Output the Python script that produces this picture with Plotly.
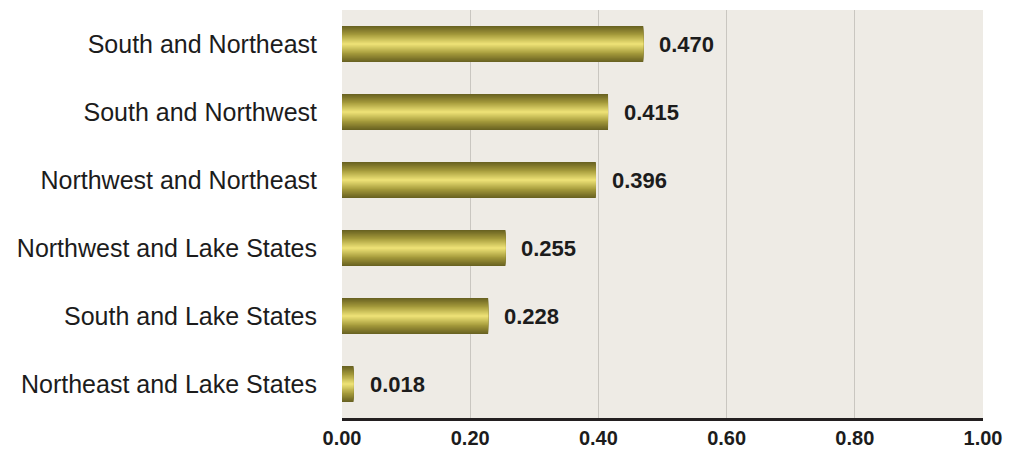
import plotly.graph_objects as go

categories = [
    "Northeast and Lake States",
    "South and Lake States",
    "Northwest and Lake States",
    "Northwest and Northeast",
    "South and Northwest",
    "South and Northeast",
]
values = [0.018, 0.228, 0.255, 0.396, 0.415, 0.470]
tick_vals = [0.0, 0.2, 0.4, 0.6, 0.8, 1.0]
tick_text = ["0.00", "0.20", "0.40", "0.60", "0.80", "1.00"]


def hex_to_rgb(h):
    h = h.lstrip("#")
    return tuple(int(h[i:i + 2], 16) for i in (0, 2, 4))


def mix(c1, c2, t):
    a, b = hex_to_rgb(c1), hex_to_rgb(c2)
    return "rgb(%d,%d,%d)" % tuple(round(a[i] + (b[i] - a[i]) * t) for i in range(3))


edge = "#6a6322"
mid = "#a89d3d"
center = "#ebdf74"

fig = go.Figure()
full_w = 0.53
n_layers = 14
for k in range(n_layers):
    t = k / (n_layers - 1)
    if t < 0.5:
        col = mix(edge, mid, t / 0.5)
    else:
        col = mix(mid, center, (t - 0.5) / 0.5)
    w = full_w * (1 - k / n_layers)
    fig.add_trace(go.Bar(
        x=values, y=categories, orientation="h",
        width=w, marker=dict(color=col, line=dict(width=0)),
        hoverinfo="skip" if k else "x+y", showlegend=False,
    ))

for cat, v in zip(categories, values):
    fig.add_annotation(
        x=v, y=cat, text="%.3f" % v, showarrow=False,
        xanchor="left", yanchor="middle", xshift=14,
        font=dict(family="Liberation Sans", size=22, color="#1c1c1c", weight="bold"),
    )

fig.update_layout(
    width=1012, height=451,
    barmode="overlay",
    paper_bgcolor="white",
    plot_bgcolor="#eeebe5",
    margin=dict(l=342, r=29, t=10, b=33, autoexpand=False),
    xaxis=dict(
        range=[0, 1.0], tickvals=tick_vals, ticktext=tick_text,
        showgrid=True, gridcolor="#c9c6c0", gridwidth=1,
        zeroline=False, showline=True, linecolor="#231f20", linewidth=3,
        ticks="", ticklabelstandoff=0,
        tickfont=dict(family="Liberation Sans", size=20, color="#1c1c1c", weight="bold"),
    ),
    yaxis=dict(
        categoryorder="array", categoryarray=categories,
        range=[-0.5, 5.5], showgrid=False, zeroline=False, showline=False,
        ticks="", ticklabelstandoff=24,
        tickfont=dict(family="Liberation Sans", size=25, color="#1c1c1c"),
    ),
)

fig.write_html("out.html")
